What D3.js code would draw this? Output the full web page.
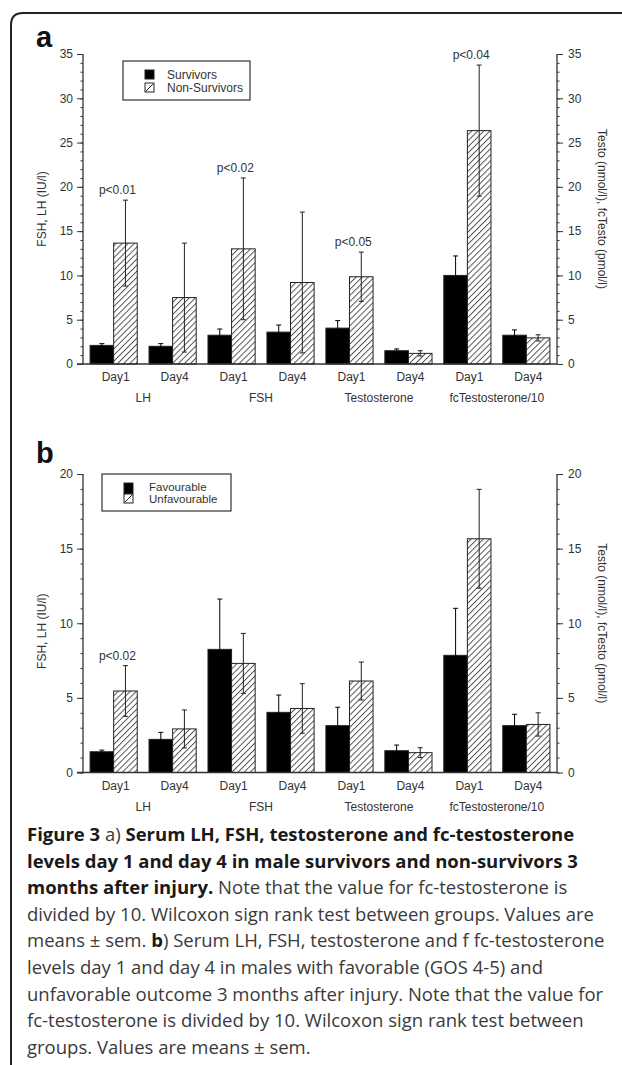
<!DOCTYPE html>
<html>
<head>
<meta charset="utf-8">
<script src="https://cdn.jsdelivr.net/npm/d3@7"></script>
<style>
  html, body { margin: 0; padding: 0; background: #fff; }
  svg { display: block; }
</style>
</head>
<body>
<svg id="chart" width="622" height="1065"></svg>
<script>
// ---------------- DATA ----------------
const hormones = ["LH", "FSH", "Testosterone", "fcTestosterone/10"];
const days = ["Day1", "Day4"];
const yTicksA = [0, 5, 10, 15, 20, 25, 30, 35];
const yTicksB = [0, 5, 10, 15, 20];

// Panel a: survivors vs non-survivors (order: LH D1, LH D4, FSH D1, FSH D4, Testo D1, Testo D4, fcT D1, fcT D4)
const survivorsMean    = [2.1, 2.0, 3.25, 3.6, 4.05, 1.5, 10.0, 3.25];
const survivorsSem     = [0.2, 0.3, 0.7, 0.8, 0.85, 0.2, 2.2, 0.6];
const nonSurvivorsMean = [13.65, 7.5, 13.0, 9.2, 9.85, 1.2, 26.35, 2.95];
const nonSurvivorsSem  = [4.85, 6.15, 8.0, 7.95, 2.78, 0.3, 7.4, 0.35];
const pLabelsA = [
  { idx: 0, text: "p<0.01" },
  { idx: 2, text: "p<0.02" },
  { idx: 4, text: "p<0.05" },
  { idx: 6, text: "p<0.04" }
];

// Panel b: favourable vs unfavourable outcome
const favourableMean   = [1.39, 2.22, 8.25, 4.03, 3.14, 1.46, 7.85, 3.14];
const favourableSem    = [0.11, 0.47, 3.37, 1.16, 1.23, 0.38, 3.15, 0.76];
const unfavourableMean = [5.46, 2.92, 7.31, 4.29, 6.13, 1.33, 15.66, 3.22];
const unfavourableSem  = [1.7, 1.27, 2.01, 1.66, 1.27, 0.33, 3.31, 0.78];
const pLabelsB = [ { idx: 0, text: "p<0.02" } ];

const seriesNamesA = ["Survivors", "Non-Survivors"];
const seriesNamesB = ["Favourable", "Unfavourable"];
const leftTitle = "FSH, LH (IU/l)";
const rightTitle = "Testo (nmol/l), fcTesto (pmol/l)";

// ---------------- DRAW ----------------
const svg = d3.select("#chart");
const FONT = "'Liberation Sans', Arial, sans-serif";
const AX = "#333";

const defs = svg.append("defs");
const pat = defs.append("pattern")
  .attr("id", "hatch").attr("patternUnits", "userSpaceOnUse")
  .attr("width", 4.3).attr("height", 4.3)
  .attr("patternTransform", "rotate(45)");
pat.append("rect").attr("width", 4.3).attr("height", 4.3).attr("fill", "#fff");
pat.append("line").attr("x1", 0.5).attr("y1", 0).attr("x2", 0.5).attr("y2", 4.3)
  .attr("stroke", "#444").attr("stroke-width", 0.9);

// frame (top-left rounded corner)
svg.append("path")
  .attr("d", "M11,1065 L11,25 Q11,13 23,13 L622,13")
  .attr("fill", "none").attr("stroke", "#222").attr("stroke-width", 2);

const cats = d3.range(8);
const x = d3.scaleBand().domain(cats).range([83, 557]).paddingInner(0.2).paddingOuter(0.12);
const xs = d3.scaleBand().domain([0, 1]).range([0, x.bandwidth()]);

function panel(cfg) {
  const g = svg.append("g");
  const y = d3.scaleLinear().domain([0, cfg.max]).range([cfg.y0, cfg.yTop]);

  // panel letter
  g.append("text").attr("x", 36).attr("y", cfg.letterY)
    .attr("font-family", FONT).attr("font-weight", "bold").attr("font-size", 29)
    .attr("fill", "#111").text(cfg.letter);

  // bars
  const series = [
    { mean: cfg.m1, sem: cfg.s1, fill: "#000", k: 0 },
    { mean: cfg.m2, sem: cfg.s2, fill: "url(#hatch)", k: 1 }
  ];
  series.forEach(s => {
    const gs = g.append("g");
    gs.selectAll("rect").data(s.mean).join("rect")
      .attr("x", (d, i) => x(i) + xs(s.k))
      .attr("y", d => y(d))
      .attr("width", xs.bandwidth())
      .attr("height", d => y(0) - y(d))
      .attr("fill", s.fill)
      .attr("stroke", "#222").attr("stroke-width", 1);
    // error bars
    s.mean.forEach((m, i) => {
      const cx = x(i) + xs(s.k) + xs.bandwidth() / 2;
      const lo = m - s.sem[i], hi = m + s.sem[i];
      const col = s.k === 0 ? "#000" : "#222";
      gs.append("line").attr("x1", cx).attr("x2", cx).attr("y1", y(lo)).attr("y2", y(hi))
        .attr("stroke", col).attr("stroke-width", 1);
      [lo, hi].forEach(v => {
        gs.append("line").attr("x1", cx - 2.5).attr("x2", cx + 2.5).attr("y1", y(v)).attr("y2", y(v))
          .attr("stroke", col).attr("stroke-width", 1);
      });
    });
  });

  // p-value labels
  cfg.pl.forEach(p => {
    const cx = x(p.idx) + xs(1) + xs.bandwidth() / 2 - 8;
    const top = cfg.m2[p.idx] + cfg.s2[p.idx];
    g.append("text").attr("x", cx).attr("y", y(top) - 6)
      .attr("text-anchor", "middle").attr("font-family", FONT).attr("font-size", 12)
      .attr("fill", "#333").text(p.text);
  });

  // axes
  const minor = d3.range(0, cfg.max + 1);
  const left = g.append("g").attr("transform", "translate(83,0)");
  left.call(d3.axisLeft(y).tickValues(minor).tickSize(2.5).tickFormat(""));
  left.append("g").call(d3.axisLeft(y).tickValues(cfg.ticks).tickSize(6).tickPadding(4));
  const right = g.append("g").attr("transform", "translate(557,0)");
  right.call(d3.axisRight(y).tickValues(minor).tickSize(2.5).tickFormat(""));
  right.append("g").call(d3.axisRight(y).tickValues(cfg.ticks).tickSize(6).tickPadding(5));
  [left, right].forEach(a => {
    a.selectAll("line").attr("stroke", AX).attr("stroke-width", 1);
    a.selectAll("text").attr("font-family", FONT).attr("font-size", 12).attr("fill", "#333");
  });
  // straight domains without end caps
  g.selectAll(".domain").remove();
  g.append("line").attr("x1", 83).attr("x2", 83).attr("y1", y(0)).attr("y2", y(cfg.max))
    .attr("stroke", AX).attr("stroke-width", 1.3);
  g.append("line").attr("x1", 557).attr("x2", 557).attr("y1", y(0)).attr("y2", y(cfg.max))
    .attr("stroke", AX).attr("stroke-width", 1.3);
  // baseline
  g.append("line").attr("x1", 77).attr("x2", 557).attr("y1", y(0)).attr("y2", y(0))
    .attr("stroke", AX).attr("stroke-width", 1.3);

  // x labels
  g.selectAll(".day").data(cats).join("text")
    .attr("x", i => x(i) + x.bandwidth() / 2 + 2)
    .attr("y", y(0) + 17)
    .attr("text-anchor", "middle").attr("font-family", FONT).attr("font-size", 12)
    .attr("fill", "#333").text(i => days[i % 2]);
  g.selectAll(".hor").data(hormones).join("text")
    .attr("x", (h, j) => (x(2 * j) + x(2 * j + 1) + x.bandwidth()) / 2)
    .attr("y", y(0) + 38)
    .attr("text-anchor", "middle").attr("font-family", FONT).attr("font-size", 12)
    .attr("fill", "#333").text(h => h);

  // axis titles
  const midY = (y(0) + y(cfg.max)) / 2;
  g.append("text").attr("transform", `translate(46,${midY + cfg.ltOff}) rotate(-90)`)
    .attr("text-anchor", "middle").attr("font-family", FONT).attr("font-size", 12)
    .attr("fill", "#333").text(leftTitle);
  g.append("text").attr("transform", `translate(598,${midY}) rotate(90)`)
    .attr("text-anchor", "middle").attr("font-family", FONT).attr("font-size", 12)
    .attr("fill", "#333").text(rightTitle);

  // legend
  const L = cfg.legend;
  g.append("rect").attr("x", L.x).attr("y", L.y).attr("width", L.w).attr("height", L.h)
    .attr("fill", "#fff").attr("stroke", "#333").attr("stroke-width", 1.2);
  L.items.forEach((it, k) => {
    g.append("rect").attr("x", it.sx).attr("y", it.sy).attr("width", it.sw).attr("height", it.sh)
      .attr("fill", k === 0 ? "#000" : "#fff").attr("stroke", "#222").attr("stroke-width", 1);
    if (k === 1) {
      g.append("line").attr("x1", it.sx + 1).attr("y1", it.sy + it.sh - 1)
        .attr("x2", it.sx + it.sw - 1).attr("y2", it.sy + 1)
        .attr("stroke", "#222").attr("stroke-width", 1);
    }
    g.append("text").attr("x", it.tx).attr("y", it.ty)
      .attr("font-family", FONT).attr("font-size", L.fs).attr("fill", "#333")
      .text(cfg.names[k]);
  });
}

panel({
  letter: "a", letterY: 47, max: 35, y0: 364, yTop: 54, ticks: yTicksA, ltOff: 0,
  m1: survivorsMean, s1: survivorsSem, m2: nonSurvivorsMean, s2: nonSurvivorsSem,
  pl: pLabelsA, names: seriesNamesA,
  legend: { x: 123, y: 61, w: 127, h: 39, fs: 12, items: [
    { sx: 145, sy: 70, sw: 9, sh: 9, tx: 167, ty: 78.5 },
    { sx: 145, sy: 83, sw: 9, sh: 9, tx: 167, ty: 91.5 }
  ] }
});

panel({
  letter: "b", letterY: 463, max: 20, y0: 772.5, yTop: 474, ticks: yTicksB, ltOff: 8,
  m1: favourableMean, s1: favourableSem, m2: unfavourableMean, s2: unfavourableSem,
  pl: pLabelsB, names: seriesNamesB,
  legend: { x: 102, y: 474, w: 129, h: 37, fs: 11.5, items: [
    { sx: 124, sy: 483, sw: 9, sh: 11, tx: 149, ty: 490.5 },
    { sx: 124, sy: 494, sw: 9, sh: 9, tx: 149, ty: 503 }
  ] }
});

// ---------------- CAPTION ----------------
const capLines = [
  [["Figure 3 ", "b"], ["a)", "n"], [" Serum LH, FSH, testosterone and fc-testosterone", "b"]],
  [["levels day 1 and day 4 in male survivors and non-survivors 3", "b"]],
  [["months after injury.", "b"], [" Note that the value for fc-testosterone is", "n"]],
  [["divided by 10. Wilcoxon sign rank test between groups. Values are", "n"]],
  [["means \u00b1 sem. ", "n"], ["b", "b"], [") Serum LH, FSH, testosterone and f fc-testosterone", "n"]],
  [["levels day 1 and day 4 in males with favorable (GOS 4-5) and", "n"]],
  [["unfavorable outcome 3 months after injury. Note that the value for", "n"]],
  [["fc-testosterone is divided by 10. Wilcoxon sign rank test between", "n"]],
  [["groups. Values are means \u00b1 sem.", "n"]]
];
const cap = svg.append("g");
capLines.forEach((line, i) => {
  const t = cap.append("text").attr("x", 27).attr("y", 841 + i * 26.6)
    .attr("font-family", "'Open Sans', 'Noto Sans', sans-serif").attr("font-size", 18.5)
    .attr("xml:space", "preserve");
  line.forEach(([s, w]) => {
    t.append("tspan").text(s)
      .attr("font-weight", w === "b" ? "bold" : "normal")
      .attr("fill", w === "b" ? "#1a1a1a" : "#3a3a3a");
  });
});
</script>
</body>
</html>
